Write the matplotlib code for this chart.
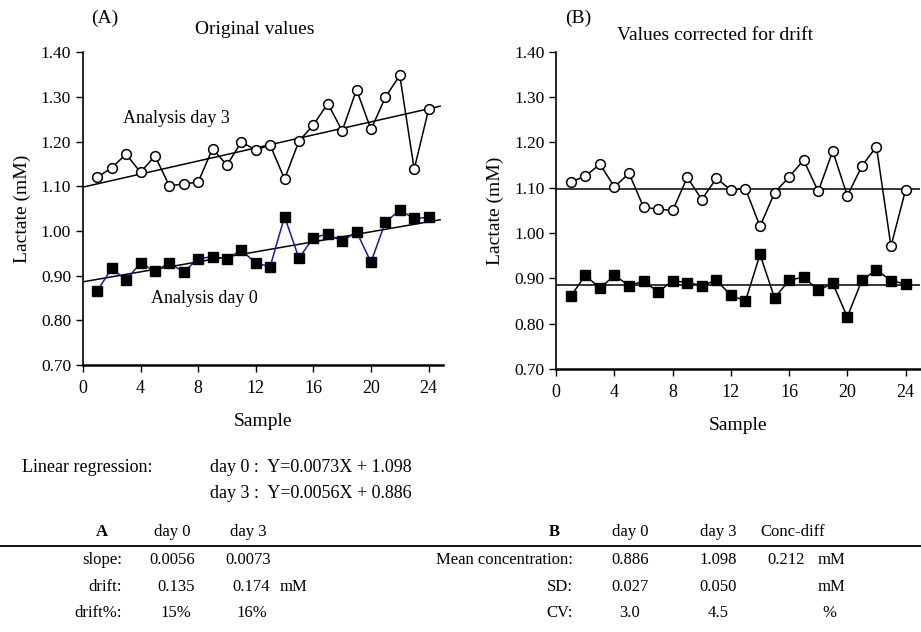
import matplotlib
matplotlib.use("Agg")
import matplotlib.pyplot as plt
from matplotlib.lines import Line2D
import numpy as np

plt.rcParams['font.family'] = ['Liberation Serif', 'DejaVu Serif']

# sample numbers
samples = list(range(1, 25))

# original values
day0_orig = [0.866, 0.916, 0.890, 0.928, 0.910, 0.928, 0.908, 0.938, 0.942, 0.938,
             0.957, 0.928, 0.920, 1.032, 0.939, 0.985, 0.993, 0.977, 0.998, 0.930,
             1.020, 1.046, 1.028, 1.030]
day3_orig = [1.120, 1.141, 1.172, 1.131, 1.168, 1.101, 1.105, 1.109, 1.184, 1.147,
             1.199, 1.181, 1.192, 1.116, 1.201, 1.237, 1.285, 1.224, 1.316, 1.227,
             1.299, 1.348, 1.138, 1.272]

# values corrected for drift
day0_corr = [0.861, 0.907, 0.878, 0.907, 0.884, 0.894, 0.870, 0.895, 0.891, 0.884,
             0.896, 0.863, 0.850, 0.953, 0.857, 0.896, 0.903, 0.874, 0.889, 0.815,
             0.896, 0.919, 0.895, 0.888]
day3_corr = [1.113, 1.126, 1.152, 1.102, 1.132, 1.057, 1.053, 1.050, 1.123, 1.074,
             1.121, 1.095, 1.098, 1.015, 1.089, 1.124, 1.161, 1.092, 1.181, 1.082,
             1.148, 1.191, 0.971, 1.095]

# regression (slope, intercept)
reg_day0 = (0.0056, 0.886)
reg_day3 = (0.0073, 1.098)

yticks = [0.70, 0.80, 0.90, 1.00, 1.10, 1.20, 1.30, 1.40]
xticks = [0, 4, 8, 12, 16, 20, 24]

fig = plt.figure(figsize=(9.21, 6.32), dpi=100)
axA = fig.add_axes([0.090, 0.4225, 0.391, 0.495])
axB = fig.add_axes([0.604, 0.416, 0.395, 0.502])


def style_axis(ax):
    ax.set_xlim(0, 25)
    ax.set_ylim(0.70, 1.40)
    ax.set_xticks(xticks)
    ax.set_yticks(yticks)
    ax.set_yticklabels([f'{v:.2f}' for v in yticks])
    for s in ['top', 'right']:
        ax.spines[s].set_visible(False)
    ax.spines['left'].set_linewidth(1.2)
    ax.spines['bottom'].set_linewidth(1.8)
    ax.tick_params(direction='out', length=5, width=1.0, labelsize=12.5)
    ax.tick_params(axis='x', pad=6, labelsize=13)
    ax.set_xlabel('Sample', fontsize=14, labelpad=11)
    ax.set_ylabel('Lactate (mM)', fontsize=14, labelpad=7)


xs = np.array([0, 24.8])

# panel A
axA.plot(samples, day3_orig, color='black', lw=1.1, marker='o', ms=7,
         mfc='white', mec='black', mew=1.1, zorder=3)
axA.plot(samples, day0_orig, color='#1a1a9e', lw=1.1, marker='s', ms=7.5,
         mfc='black', mec='black', zorder=3)
axA.plot(xs, reg_day3[0] * xs + reg_day3[1], color='black', lw=1.1, zorder=2)
axA.plot(xs, reg_day0[0] * xs + reg_day0[1], color='black', lw=1.1, zorder=2)
axA.text(2.8, 1.252, 'Analysis day 3', fontsize=13, va='center')
axA.text(4.7, 0.848, 'Analysis day 0', fontsize=13, va='center')
style_axis(axA)

# panel B
axB.plot(samples, day3_corr, color='black', lw=1.1, marker='o', ms=7,
         mfc='white', mec='black', mew=1.1, zorder=3)
axB.plot(samples, day0_corr, color='black', lw=1.1, marker='s', ms=7.5,
         mfc='black', mec='black', zorder=3)
axB.axhline(reg_day3[1], color='black', lw=1.1, zorder=2)
axB.axhline(reg_day0[1], color='black', lw=1.1, zorder=2)
style_axis(axB)

# titles
fig.text(105 / 921, 1 - 18 / 632, '(A)', fontsize=14, ha='center', va='center')
fig.text(255 / 921, 1 - 29 / 632, 'Original values', fontsize=14, ha='center', va='center')
fig.text(578 / 921, 1 - 18 / 632, '(B)', fontsize=14, ha='center', va='center')
fig.text(715 / 921, 1 - 36 / 632, 'Values corrected for drift', fontsize=14,
         ha='center', va='center')

# regression text
def fy(py):
    return 1 - py / 632

fig.text(22 / 921, fy(467), 'Linear regression:', fontsize=13, va='center')
fig.text(210 / 921, fy(467), f'day 0 :  Y={reg_day3[0]:.4f}X + {reg_day3[1]:.3f}',
         fontsize=13, va='center')
fig.text(210 / 921, fy(493), f'day 3 :  Y={reg_day0[0]:.4f}X + {reg_day0[1]:.3f}',
         fontsize=13, va='center')

# table
fig.add_artist(Line2D([0, 1], [fy(546), fy(546)], color='black', lw=1.3,
                      transform=fig.transFigure))
fs = 12

def t(px, py, s, ha='center', **kw):
    fig.text(px / 921, fy(py), s, fontsize=fs, ha=ha, va='center', **kw)

t(102, 532, 'A', fontweight='bold')
t(172, 532, 'day 0')
t(248, 532, 'day 3')
t(122, 560, 'slope:', ha='right')
t(172, 560, '0.0056')
t(248, 560, '0.0073')
t(122, 587, 'drift:', ha='right')
t(176, 587, '0.135')
t(251, 587, '0.174')
t(280, 587, 'mM', ha='left')
t(122, 613, 'drift%:', ha='right')
t(176, 613, '15%')
t(252, 613, '16%')

t(554, 532, 'B', fontweight='bold')
t(630, 532, 'day 0')
t(718, 532, 'day 3')
t(793, 532, 'Conc-diff')
t(805, 560, '0.212', ha='right')
t(573, 560, 'Mean concentration:', ha='right')
t(630, 560, '0.886')
t(718, 560, '1.098')
t(818, 560, 'mM', ha='left')
t(573, 587, 'SD:', ha='right')
t(630, 587, '0.027')
t(718, 587, '0.050')
t(818, 587, 'mM', ha='left')
t(573, 613, 'CV:', ha='right')
t(630, 613, '3.0')
t(718, 613, '4.5')
t(822, 613, '%', ha='left')

fig.savefig('out.png', dpi=100)
